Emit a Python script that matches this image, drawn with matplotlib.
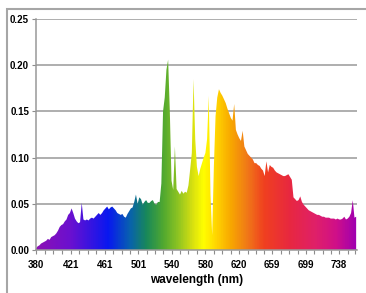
import numpy as np
import matplotlib
matplotlib.use('Agg')
from matplotlib import pyplot as plt
from matplotlib.colors import LinearSegmentedColormap
from matplotlib.patches import Rectangle

plt.rc('font', **{'family': 'sans-serif', 'sans-serif': ['Liberation Sans', 'DejaVu Sans']})

# spectrum, 2 nm steps from 380 nm
wavelength = np.arange(380, 760, 2)
intensity = [
    0.002, 0.004, 0.005, 0.007, 0.008, 0.009, 0.010, 0.012, 0.011, 0.014,  # 380-398
    0.015, 0.016, 0.018, 0.021, 0.025, 0.027, 0.028, 0.031, 0.033, 0.038,  # 400-418
    0.040, 0.045, 0.040, 0.034, 0.031, 0.029, 0.030, 0.051, 0.033, 0.032,  # 420-438
    0.033, 0.032, 0.034, 0.035, 0.034, 0.036, 0.038, 0.040, 0.038, 0.040,  # 440-458
    0.043, 0.045, 0.047, 0.044, 0.046, 0.047, 0.045, 0.043, 0.040, 0.039,  # 460-478
    0.038, 0.039, 0.036, 0.035, 0.039, 0.042, 0.045, 0.046, 0.052, 0.060,  # 480-498
    0.050, 0.057, 0.055, 0.049, 0.052, 0.054, 0.051, 0.051, 0.053, 0.054,  # 500-518
    0.050, 0.049, 0.052, 0.052, 0.072, 0.150, 0.165, 0.195, 0.206, 0.150,  # 520-538
    0.075, 0.065, 0.112, 0.066, 0.063, 0.060, 0.064, 0.061, 0.063, 0.062,  # 540-558
    0.070, 0.087, 0.105, 0.185, 0.120, 0.090, 0.080, 0.088, 0.094, 0.100,  # 560-578
    0.105, 0.120, 0.167, 0.060, 0.016, 0.090, 0.145, 0.165, 0.174, 0.170,  # 580-598
    0.167, 0.163, 0.159, 0.153, 0.148, 0.143, 0.140, 0.158, 0.130, 0.125,  # 600-618
    0.121, 0.118, 0.129, 0.112, 0.108, 0.104, 0.102, 0.100, 0.098, 0.094,  # 620-638
    0.094, 0.092, 0.091, 0.088, 0.086, 0.080, 0.096, 0.084, 0.092, 0.090,  # 640-658
    0.089, 0.086, 0.084, 0.083, 0.082, 0.081, 0.080, 0.080, 0.081, 0.082,  # 660-678
    0.079, 0.076, 0.057, 0.055, 0.053, 0.054, 0.058, 0.052, 0.049, 0.047,  # 680-698
    0.045, 0.043, 0.042, 0.041, 0.040, 0.039, 0.038, 0.038, 0.037, 0.036,  # 700-718
    0.036, 0.035, 0.035, 0.035, 0.034, 0.034, 0.034, 0.033, 0.034, 0.033,  # 720-738
    0.033, 0.034, 0.036, 0.033, 0.034, 0.036, 0.040, 0.054, 0.035, 0.036,  # 740-758
]
tick_labels = [380, 421, 461, 501, 540, 580, 620, 659, 699, 738]
y_ticks = [0.00, 0.05, 0.10, 0.15, 0.20, 0.25]

# wavelength colours
cmap = LinearSegmentedColormap.from_list('spec', [
    (0.000, '#8c10b4'), (0.106, '#6a10d0'), (0.224, '#0818f0'),
    (0.290, '#0860b0'), (0.343, '#18885a'), (0.396, '#50a830'),
    (0.449, '#98c820'), (0.488, '#d8e010'), (0.522, '#ffff00'),
    (0.567, '#ffd000'), (0.607, '#f8a800'), (0.660, '#f07818'),
    (0.712, '#f04020'), (0.792, '#e82840'), (0.871, '#e02068'),
    (0.937, '#d01088'), (1.000, '#a000b0')])

fig = plt.figure(figsize=(3.66, 2.93), dpi=100)
fig.patches.append(Rectangle((7 / 366, -0.05), 1.1, (293 - 9) / 293 + 0.05,
                             transform=fig.transFigure, fill=False,
                             edgecolor='#a6a6a6', linewidth=1.5))
ax = fig.add_axes([36 / 366, 43 / 293, 321 / 366, 231 / 293])

x0, x1 = 380, 759
grad = np.linspace(0, 1, 400).reshape(1, -1)
im = ax.imshow(grad, cmap=cmap, aspect='auto', extent=[x0, x1, 0, 0.25],
               origin='lower', zorder=2)
poly = ax.fill(np.concatenate([wavelength, [wavelength[-1], wavelength[0]]]),
               np.concatenate([intensity, [0, 0]]),
               facecolor='none', edgecolor='none')[0]
im.set_clip_path(poly)

ax.set_xlim(x0, x1)
ax.set_ylim(0, 0.25)
ax.set_yticks(y_ticks)
ax.set_yticklabels(['%.2f' % v for v in y_ticks], fontsize=7, fontweight='bold')
ax.set_xticks(tick_labels)
ax.set_xticklabels([str(v) for v in tick_labels], fontsize=7, fontweight='bold')
minor = []
for a, b in zip(tick_labels[:-1], tick_labels[1:]):
    minor += list(np.linspace(a, b, 5)[1:-1])
minor += [748, 757]
ax.set_xticks(minor, minor=True)
ax.tick_params(axis='both', which='both', direction='out', color='#8c8c8c',
               length=3, width=0.8, pad=4)
ax.tick_params(axis='y', pad=2)
ax.yaxis.grid(True, color='#999999', linewidth=1.1, zorder=1)
ax.set_axisbelow(True)
for s in ['top', 'right']:
    ax.spines[s].set_visible(False)
for s in ['left', 'bottom']:
    ax.spines[s].set_color('#999999')
    ax.spines[s].set_linewidth(1.1)
ax.set_xlabel('wavelength (nm)', fontsize=8.5, fontweight='bold', labelpad=3)

fig.savefig('out.png', dpi=100)
